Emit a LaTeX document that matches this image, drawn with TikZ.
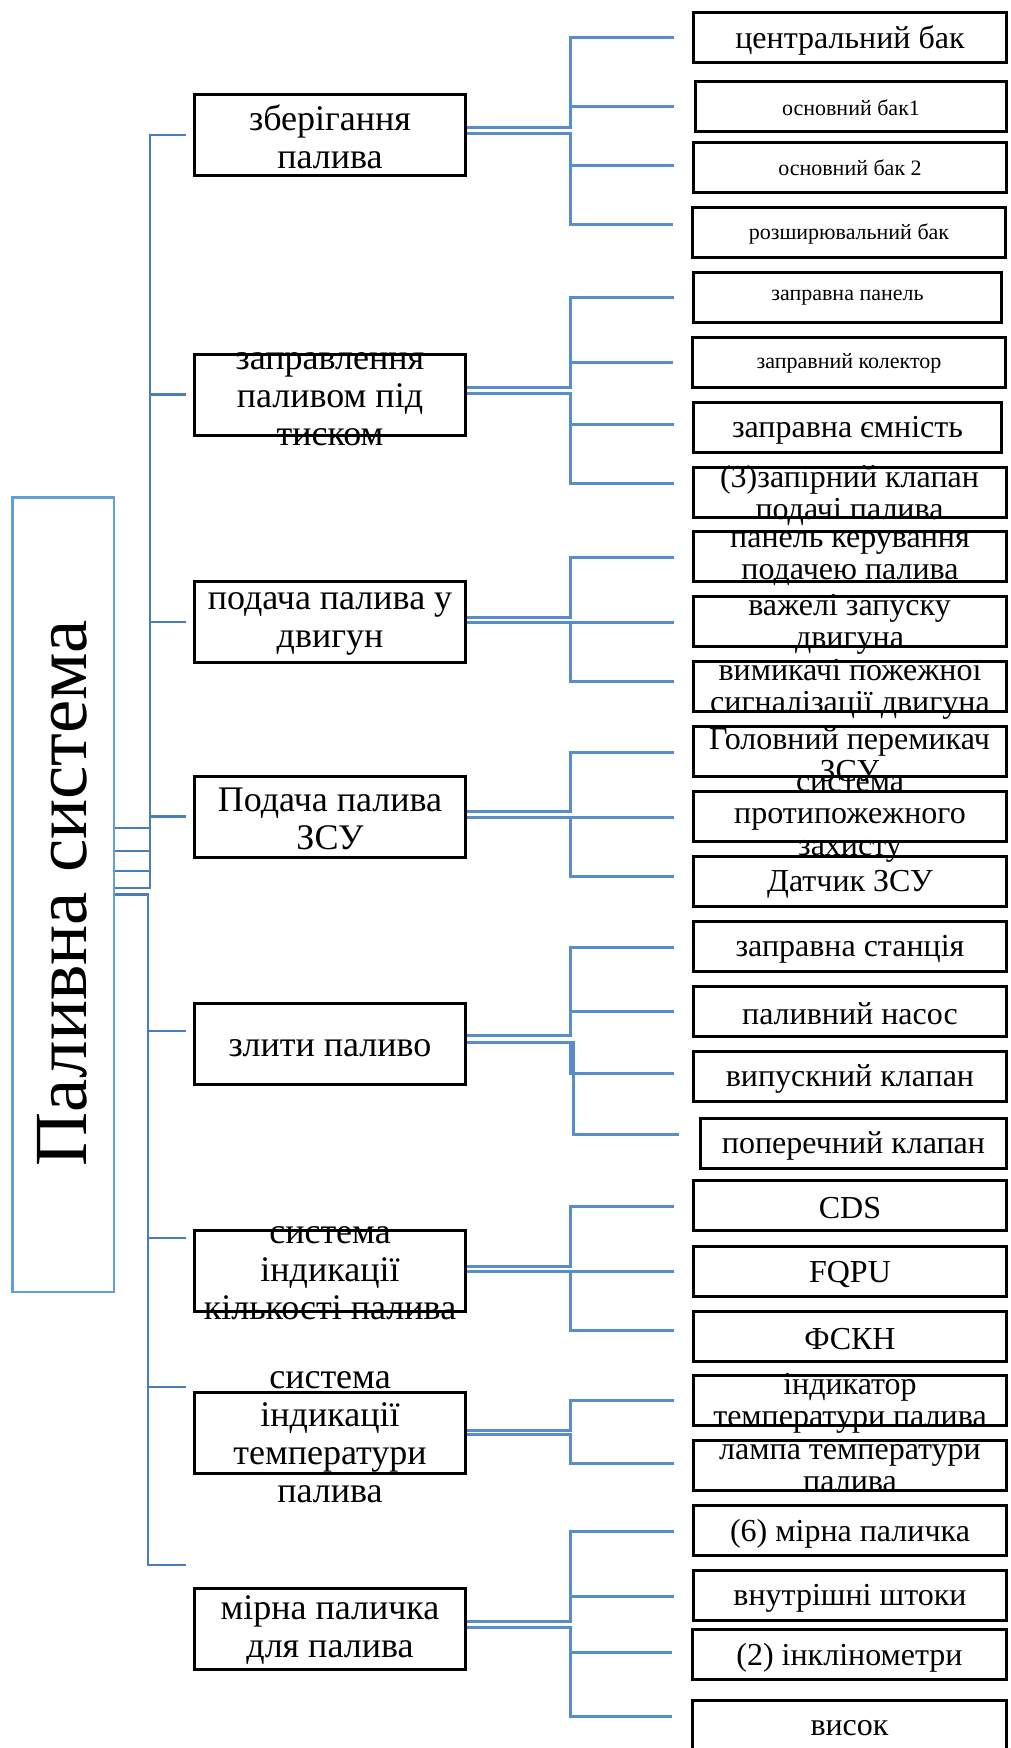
\documentclass[tikz,border=0pt]{standalone}
\usepackage{fontspec}
\setmainfont{Liberation Serif}
\usetikzlibrary{calc}
\definecolor{trunkc}{RGB}{74,126,187}
\definecolor{brc}{RGB}{88,141,203}
\definecolor{bigc}{RGB}{100,158,216}
\begin{document}
\begin{tikzpicture}[x=1pt,y=-1pt,
  pbox/.style={draw=black, line width=3pt, minimum width=271pt, minimum height=81pt, inner sep=0pt},
  cbox/.style={draw=black, line width=3pt, minimum width=313pt, minimum height=50pt, inner sep=0pt},
  ptext/.style={align=center, inner sep=0pt, yshift=-2pt, font=\fontsize{36}{38}\selectfont},
  ctextL/.style={align=center, inner sep=0pt, yshift=-3pt, font=\fontsize{32}{32}\selectfont},
  ctextS/.style={align=center, inner sep=0pt, yshift=-1pt, font=\fontsize{22}{24}\selectfont},
  br/.style={draw=brc, line width=3pt},
  tr/.style={draw=trunkc, line width=2.5pt},
]
\useasboundingbox (0,0) rectangle (1010,1748);

% root box
\node[draw=bigc, line width=2.5pt, minimum width=101.5pt, minimum height=794.5pt, inner sep=0pt] (big) at (63,894.5) {};
\node[rotate=90, anchor=base, inner sep=0pt, font=\fontsize{75}{75}\selectfont] (title) at (86,893) {Паливна система};

% parent boxes
\node[pbox] (p1) at (330,135) {};
\node[pbox] (p2) at (330,394.5) {};
\node[pbox] (p3) at (330,622) {};
\node[pbox] (p4) at (330,816.5) {};
\node[pbox] (p5) at (330,1044) {};
\node[pbox] (p6) at (330,1271) {};
\node[pbox] (p7) at (330,1433) {};
\node[pbox] (p8) at (330,1628.5) {};

\node[ptext] (p1t) at (p1.center) {зберігання\\палива};
\node[ptext] (p2t) at ($(p2.center)+(0,3)$) {заправлення\\паливом під\\тиском};
\node[ptext] (p3t) at (p3.center) {подача палива у\\двигун};
\node[ptext] (p4t) at (p4.center) {Подача палива\\ЗСУ};
\node[ptext] (p5t) at ($(p5.center)+(0,2)$) {злити паливо};
\node[ptext] (p6t) at (p6.center) {система\\індикації\\кількості палива};
\node[ptext] (p7t) at ($(p7.center)+(0,2)$) {система\\індикації\\температури\\палива};
\node[ptext] (p8t) at (p8.center) {мірна паличка\\для палива};

% child boxes
\node[cbox] (c1) at (850,37.5) {};
\node[cbox, minimum width=311pt] (c2) at (851,106.5) {};
\node[cbox] (c3) at (850,167) {};
\node[cbox] (c4) at (849,232.5) {};
\node[cbox, minimum width=308pt] (c5) at (847.5,297) {};
\node[cbox] (c6) at (849,362.5) {};
\node[cbox, minimum width=308pt] (c7) at (847.5,427.5) {};
\node[cbox] (c8) at (849.5,492.5) {};
\node[cbox] (c9) at (850,556.5) {};
\node[cbox] (c10) at (849.5,621.5) {};
\node[cbox] (c11) at (850,686.5) {};
\node[cbox] (c12) at (849.5,751.5) {};
\node[cbox] (c13) at (850,816.5) {};
\node[cbox] (c14) at (850,881) {};
\node[cbox] (c15) at (850,946) {};
\node[cbox] (c16) at (850,1011) {};
\node[cbox] (c17) at (850,1076) {};
\node[cbox, minimum width=306pt] (c18) at (853.5,1143) {};
\node[cbox] (c19) at (850,1205.5) {};
\node[cbox] (c20) at (850,1271) {};
\node[cbox] (c21) at (850,1336) {};
\node[cbox] (c22) at (850,1400.5) {};
\node[cbox] (c23) at (850,1465.5) {};
\node[cbox] (c24) at (850,1530.5) {};
\node[cbox] (c25) at (850,1595.5) {};
\node[cbox, minimum width=314pt] (c26) at (849.5,1654.5) {};
\node[cbox, minimum width=314pt] (c27) at (849.5,1725.5) {};

\node[ctextL] (c1t) at (c1.center) {центральний бак};
\node[ctextS] (c2t) at (c2.center) {основний бак1};
\node[ctextS] (c3t) at (c3.center) {основний бак 2};
\node[ctextS] (c4t) at (c4.center) {розширювальний бак};
\node[ctextS] (c5t) at (c5.center) {заправна панель};
\node[ctextS] (c6t) at (c6.center) {заправний колектор};
\node[ctextL] (c7t) at (c7.center) {заправна ємність};
\node[ctextL] (c8t) at (c8.center) {(3)запірний клапан\\подачі палива};
\node[ctextL] (c9t) at (c9.center) {панель керування\\подачею палива};
\node[ctextL] (c10t) at (c10.center) {важелі запуску\\двигуна};
\node[ctextL] (c11t) at (c11.center) {вимикачі пожежної\\сигналізації двигуна};
\node[ctextL] (c12t) at (c12.center) {Головний перемикач\\ЗСУ};
\node[ctextL] (c13t) at (c13.center) {система\\протипожежного\\захисту};
\node[ctextL] (c14t) at (c14.center) {Датчик ЗСУ};
\node[ctextL] (c15t) at (c15.center) {заправна станція};
\node[ctextL] (c16t) at (c16.center) {паливний насос};
\node[ctextL] (c17t) at (c17.center) {випускний клапан};
\node[ctextL] (c18t) at (c18.center) {поперечний клапан};
\node[ctextL] (c19t) at (c19.center) {CDS};
\node[ctextL] (c20t) at (c20.center) {FQPU};
\node[ctextL] (c21t) at (c21.center) {ФСКН};
\node[ctextL] (c22t) at (c22.center) {індикатор\\температури палива};
\node[ctextL] (c23t) at (c23.center) {лампа температури\\палива};
\node[ctextL] (c24t) at (c24.center) {(6) мірна паличка};
\node[ctextL] (c25t) at (c25.center) {внутрішні штоки};
\node[ctextL] (c26t) at (c26.center) {(2) інклінометри};
\node[ctextL] (c27t) at (c27.center) {висок};

% trunk connectors
\draw[tr] ($(big.east)+(0,-66.5)$) -- ++(35,0) |- ($(p1.west)+(-7,0)$);
\draw[tr] ($(big.east)+(0,-43.5)$) -- ++(35,0) |- ($(p2.west)+(-7,0)$);
\draw[tr] ($(big.east)+(0,-23.5)$) -- ++(35,0) |- ($(p3.west)+(-7,0)$);
\draw[tr] ($(big.east)+(0,-6.5)$) -- ++(35,0) |- ($(p4.west)+(-7,0)$);
\draw[tr] (big.east) -- ++(33,0) |- ($(p5.west)+(-7,-13)$);
\draw[tr] (big.east) -- ++(33,0) |- ($(p6.west)+(-7,-33)$);
\draw[tr] (big.east) -- ++(33,0) |- ($(p7.west)+(-7,-46)$);
\draw[tr] (big.east) -- ++(33,0) |- ($(p8.west)+(-7,-63.5)$);

% branch connectors
\draw[br] ($(p1.east)+(0,-8)$) -- ++(103,0) |- ($(c1.west)+(-18,-0.5)$);
\draw[br] ($(p1.east)+(0,-8)$) -- ++(103,0) |- ($(c2.west)+(-20,-0.5)$);
\draw[br] ($(p1.east)+(0,-2)$) -- ++(103,0) |- ($(c3.west)+(-18,-2)$);
\draw[br] ($(p1.east)+(0,-2)$) -- ++(103,0) |- ($(c4.west)+(-18,-8.5)$);

\draw[br] ($(p2.east)+(0,-7.5)$) -- ++(103,0) |- ($(c5.west)+(-18,0)$);
\draw[br] ($(p2.east)+(0,-7.5)$) -- ++(103,0) |- ($(c6.west)+(-18,-0.5)$);
\draw[br] ($(p2.east)+(0,-1.5)$) -- ++(103,0) |- ($(c7.west)+(-18,-3.5)$);
\draw[br] ($(p2.east)+(0,-1.5)$) -- ++(103,0) |- ($(c8.west)+(-18,-9.5)$);

\draw[br] ($(p3.east)+(0,-5)$) -- ++(103,0) |- ($(c9.west)+(-18,0.5)$);
\draw[br] (p3.east) -- ++(103,0) |- ($(c10.west)+(-18,0.5)$);
\draw[br] (p3.east) -- ++(103,0) |- ($(c11.west)+(-18,-5.5)$);

\draw[br] ($(p4.east)+(0,-5.5)$) -- ++(103,0) |- ($(c12.west)+(-18,0.5)$);
\draw[br] ($(p4.east)+(0,0.5)$) -- ++(103,0) |- ($(c13.west)+(-18,0.5)$);
\draw[br] ($(p4.east)+(0,0.5)$) -- ++(103,0) |- ($(c14.west)+(-18,-5)$);

\draw[br] ($(p5.east)+(0,-9)$) -- ++(103,0) |- ($(c15.west)+(-18,1)$);
\draw[br] ($(p5.east)+(0,-9)$) -- ++(103,0) |- ($(c16.west)+(-18,0)$);
\draw[br] ($(p5.east)+(0,-2)$) -- ++(103,0) |- ($(c17.west)+(-18,-3)$);
\draw[br] ($(p5.east)+(0,-2)$) -- ++(106,0) |- ($(c18.west)+(-20,-9)$);

\draw[br] ($(p6.east)+(0,-5)$) -- ++(103,0) |- ($(c19.west)+(-18,0.5)$);
\draw[br] (p6.east) -- ++(103,0) |- ($(c20.west)+(-18,0)$);
\draw[br] (p6.east) -- ++(103,0) |- ($(c21.west)+(-18,-6)$);

\draw[br] ($(p7.east)+(0,-3)$) -- ++(103,0) |- ($(c22.west)+(-18,-0.5)$);
\draw[br] ($(p7.east)+(0,1)$) -- ++(103,0) |- ($(c23.west)+(-18,-2.5)$);

\draw[br] ($(p8.east)+(0,-7.5)$) -- ++(103,0) |- ($(c24.west)+(-18,0.5)$);
\draw[br] ($(p8.east)+(0,-7.5)$) -- ++(103,0) |- ($(c25.west)+(-18,0.5)$);
\draw[br] ($(p8.east)+(0,-1.5)$) -- ++(103,0) |- ($(c26.west)+(-19,-2.5)$);
\draw[br] ($(p8.east)+(0,-1.5)$) -- ++(103,0) |- ($(c27.west)+(-19,-9.5)$);
\end{tikzpicture}
\end{document}
